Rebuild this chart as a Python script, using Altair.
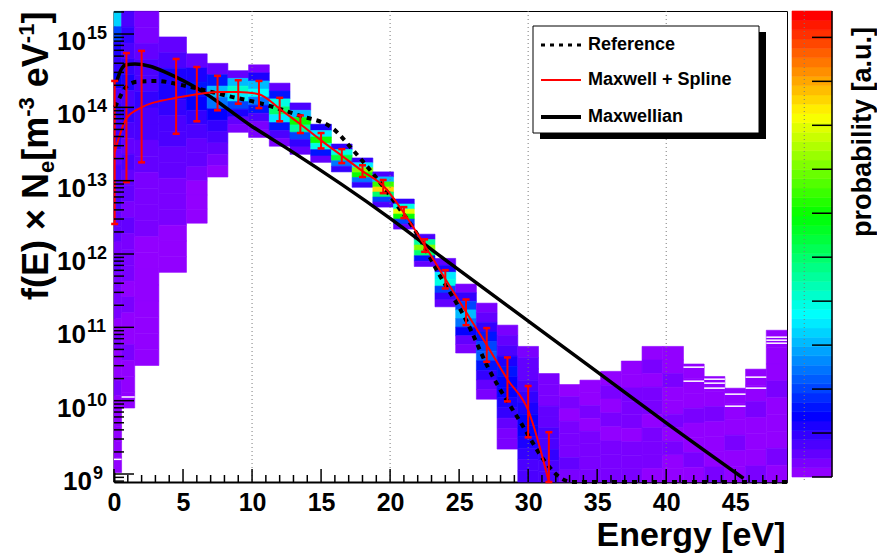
import colorsys
import math
import altair as alt
import pandas as pd

FONT = "Liberation Sans"

# ---------------- data ----------------
# y values are given as log10 exponents
Y_MIN, Y_MAX = 8.891, 15.314
X_MAX = 48.75
Z_MAX = 1.06

bin_lo = [0.0, 0.55, 1.5, 3.25, 5.25, 6.75, 8.25, 9.75, 11.25, 12.75, 14.25, 15.75, 17.25,
          18.75, 20.25, 21.75, 23.25, 24.75, 26.25, 27.75, 29.25, 30.75, 32.25, 33.75, 35.25,
          36.75, 38.25, 39.75, 41.25, 42.75, 44.25, 45.75, 47.25]
bin_hi = [0.55, 1.5, 3.25, 5.25, 6.75, 8.25, 9.75, 11.25, 12.75, 14.25, 15.75, 17.25, 18.75,
          20.25, 21.75, 23.25, 24.75, 26.25, 27.75, 29.25, 30.75, 32.25, 33.75, 35.25, 36.75,
          38.25, 39.75, 41.25, 42.75, 44.25, 45.75, 47.25, 48.75]
col_top = [15.31, 15.31, 15.31, 14.96, 14.73, 14.60, 14.50, 14.58, 14.33, 14.06, 13.77, 13.50,
           13.31, 13.12, 12.75, 12.27, 11.94, 11.59, 11.33, 11.03, 10.74, 10.37, 10.22, 10.28,
           10.40, 10.54, 10.74, 10.74, 10.50, 10.33, 10.17, 10.43, 10.96]
col_bot = [9.02, 9.90, 10.48, 11.75, 12.42, 13.05, 13.66, 13.59, 13.47, 13.36, 13.25, 13.12,
           12.91, 12.64, 12.34, 11.83, 11.28, 10.65, 10.02, 9.34] + [8.89] * 13
col_profile = [
    [0.32, 0.2, 0.12, 0.1, 0.13, 0.08, 0.1, 0.07, 0.09, 0.06, 0.08, 0.05, 0.07, 0.05, 0.06,
     0.04, 0.05, 0.03, 0.04, 0.03, 0.02, 0.03, 0.02, 0.02, 0.03, 0.02, 0.02, 0.02, 0.02, 0.02],
    [0.08, 0.1, 0.07, 0.09, 0.12, 0.08, 0.1, 0.07, 0.06, 0.08, 0.05, 0.06, 0.04, 0.05, 0.03,
     0.04, 0.03, 0.02, 0.03, 0.02, 0.02, 0.03, 0.02, 0.02, 0.02],
    [0.03, 0.04, 0.05, 0.07, 0.08, 0.09, 0.08, 0.07, 0.06, 0.05, 0.04, 0.04, 0.03, 0.03, 0.02,
     0.02, 0.02, 0.02, 0.02, 0.02, 0.02, 0.02],
    [0.05, 0.08, 0.11, 0.12, 0.1, 0.08, 0.07, 0.06, 0.05, 0.04, 0.03, 0.03, 0.02, 0.02, 0.02],
    [0.06, 0.12, 0.15, 0.13, 0.1, 0.08, 0.06, 0.05, 0.03, 0.02, 0.02, 0.02],
    [0.05, 0.15, 0.3, 0.25, 0.13, 0.1, 0.07, 0.05, 0.03, 0.02],
    [0.05, 0.3, 0.42, 0.35, 0.2, 0.12, 0.05, 0.03],
    [0.04, 0.12, 0.3, 0.38, 0.25, 0.15, 0.08, 0.04, 0.03],
    [0.06, 0.15, 0.4, 0.5, 0.35, 0.15, 0.07, 0.04],
    [0.08, 0.3, 0.6, 0.45, 0.2, 0.1, 0.05],
    [0.12, 0.35, 0.6, 0.4, 0.15, 0.06],
    [0.1, 0.4, 0.55, 0.25, 0.1],
    [0.1, 0.35, 0.7, 0.6, 0.25, 0.1],
    [0.08, 0.3, 0.65, 0.85, 0.5, 0.2, 0.07],
    [0.1, 0.4, 0.8, 0.6, 0.2, 0.06],
    [0.08, 0.45, 0.7, 0.5, 0.15, 0.05],
    [0.05, 0.12, 0.35, 0.4, 0.2, 0.1, 0.05],
    [0.04, 0.1, 0.2, 0.3, 0.25, 0.13, 0.06, 0.04],
    [0.04, 0.06, 0.1, 0.15, 0.2, 0.22, 0.15, 0.1, 0.05, 0.03],
    [0.03, 0.05, 0.08, 0.12, 0.15, 0.14, 0.13, 0.12, 0.09, 0.06, 0.04, 0.03],
    [0.03, 0.05, 0.06, 0.08, 0.1, 0.12, 0.13, 0.14, 0.12, 0.1, 0.08, 0.07],
    [0.03, 0.03, 0.04, 0.05, 0.06, 0.07, 0.08, 0.09, 0.08, 0.07],
    [0.02, 0.03, 0.02, 0.04, 0.03, 0.04, 0.05, 0.04],
    [0.02, 0.02, 0.03, 0.02, 0.03, 0.04, 0.03, 0.04],
    [0.02, 0.03, 0.02, 0.03, 0.02, 0.03, 0.04, 0.03],
    [0.02, 0.02, 0.03, 0.04, 0.03, 0.02, 0.03, 0.04, 0.03],
    [0.02, 0.03, 0.02, 0.03, 0.03, 0.02, 0.04, 0.03, 0.03, 0.02],
    [0.02, 0.02, 0.03, 0.02, 0.02, 0.03, 0.02, 0.03, 0.02, 0.02],
    [0.02, 0.02, 0.02, 0.03, 0.02, 0.02, 0.03, 0.02],
    [0.02, 0.02, 0.03, 0.02, 0.02, 0.02, 0.03],
    [0.02, 0.02, 0.02, 0.03, 0.02, 0.02],
    [0.02, 0.02, 0.03, 0.02, 0.02, 0.02, 0.03],
    [0.02, 0.02, 0.02, 0.03, 0.02, 0.02, 0.02, 0.03, 0.02],
]
# empty (white) bins inside columns: x range and log10 y
gap_x0 = [0.0, 0.55, 41.25, 41.25, 42.75, 42.75, 42.75, 44.25, 44.25, 45.75, 45.75, 47.25, 47.25, 47.25]
gap_x1 = [0.55, 1.5, 42.75, 42.75, 44.25, 44.25, 44.25, 45.75, 45.75, 47.25, 47.25, 48.75, 48.75, 48.75]
gap_L = [9.20, 10.05, 10.457, 10.266, 10.293, 10.239, 10.171, 10.089, 9.925, 10.321, 10.171,
         10.866, 10.825, 10.784]

# Maxwell + Spline points with error bars
eb_E = [0.05, 0.9, 2.0, 4.5, 6.0, 7.5, 9.0, 10.5, 12.0, 13.5, 15.0, 16.5, 18.0, 19.5, 21.0,
        22.5, 24.0, 25.5, 27.0, 28.5, 30.0, 31.5]
eb_mid = [13.39, 13.85, 14.00, 14.13, 14.18, 14.21, 14.21, 14.18, 13.98, 13.77, 13.55, 13.34,
          13.13, 12.93, 12.56, 12.12, 11.66, 11.21, 10.76, 10.29, 9.87, 8.78]
eb_hi = [14.36, 14.74, 14.77, 14.66, 14.55, 14.43, 14.37, 14.36, 14.13, 13.89, 13.65, 13.43,
         13.21, 13.01, 12.64, 12.20, 11.78, 11.38, 10.99, 10.59, 10.20, 9.57]
eb_lo = [12.41, 12.98, 13.25, 13.64, 13.81, 13.96, 14.05, 13.99, 13.81, 13.65, 13.44, 13.24,
         13.05, 12.83, 12.49, 12.03, 11.53, 11.03, 10.53, 9.99, 9.50, 7.90]

# Reference (dotted)
ref_E = [0.07, 0.43, 0.79, 1.66, 3.1, 5.0, 8.6, 10.3, 13.4, 15.8, 17.3, 19.0, 20.4, 21.9,
         23.5, 25.5, 27.1, 29.5, 31.3, 32.4, 33.2, 40.0, 48.75]
ref_L = [14.00, 14.14, 14.26, 14.35, 14.36, 14.30, 14.14, 14.07, 13.89, 13.72, 13.42, 13.04,
         12.69, 12.29, 11.74, 11.10, 10.45, 9.69, 9.15, 8.94, 8.80, 7.50, 6.00]

# Maxwellian (solid black)
mx_E = [0.22, 0.5, 0.87, 1.52, 2.6, 3.83, 6.2, 10.0, 12.7, 19.9, 24.0, 35.1, 39.9, 45.6]
mx_L = [14.37, 14.51, 14.58, 14.59, 14.56, 14.47, 14.24, 13.74, 13.42, 12.50, 11.92, 10.38,
        9.71, 8.94]

x_labels = [0, 5, 10, 15, 20, 25, 30, 35, 40, 45]
x_minor = [i for i in range(0, 49) if i % 5]
x_grid = [10, 20, 30, 40, 50]
y_exps = [9, 10, 11, 12, 13, 14, 15]
legend_labels = ["Reference", "Maxwell + Spline", "Maxwellian"]
cb_title = "probability [a.u.]"
cb_ticks = [0.0, 0.1, 0.2, 0.3, 0.4, 0.5, 0.6, 0.7, 0.8, 0.9, 1.0]
# y title pieces: (text, kind, leading space)  kind: 0 normal, 1 subscript, 2 superscript
y_title = [("f(E) × N", 0, 0), ("e", 1, 0), ("[m", 0, 0), ("-3", 2, 0), ("eV", 0, 1),
           ("-1", 2, 0), ("]", 0, 0)]

# ---------------- tables ----------------
rows = []
for i in range(len(bin_lo)):
    prof = col_profile[i]
    n = len(prof)
    step = (col_top[i] - col_bot[i]) / n
    for j, v in enumerate(prof):
        hi = col_top[i] - j * step
        lo = hi - step
        rows.append({"x0": bin_lo[i], "x1": bin_hi[i], "y0": 10 ** lo, "y1": 10 ** hi, "v": v})
cells = pd.DataFrame(rows)
gaps = pd.DataFrame({"x0": gap_x0, "x1": gap_x1, "y": [10 ** v for v in gap_L]})

eb = pd.DataFrame({"E": eb_E, "mid": [10 ** v for v in eb_mid],
                   "hi": [10 ** v for v in eb_hi], "lo": [10 ** v for v in eb_lo]})
ref = pd.DataFrame({"E": ref_E, "f": [10 ** v for v in ref_L]})
mx = pd.DataFrame({"E": mx_E, "f": [10 ** v for v in mx_L]})

y_major = pd.DataFrame({"v": [10.0 ** k for k in y_exps]})
y_minor = pd.DataFrame({"v": [m * 10.0 ** k for k in range(8, 16) for m in range(2, 10)
                              if Y_MIN <= k + math.log10(m) <= Y_MAX]})
ylab2 = pd.DataFrame({"v": [10.0 ** k for k in y_exps if k >= 10],
                      "e": [str(k) for k in y_exps if k >= 10]})
ylab1 = pd.DataFrame({"v": [10.0 ** k for k in y_exps if k < 10],
                      "e": [str(k) for k in y_exps if k < 10]})

# palette (ROOT "pretty" palette: 49 HLS hues from violet to red + red)
pal = []
for i in range(49):
    h = (280 - (i + 1) * 5.6) / 360.0
    r, g, b = colorsys.hls_to_rgb(h, 0.5, 1.0)
    pal.append("#%02x%02x%02x" % (round(r * 255), round(g * 255), round(b * 255)))
pal.append("#ff0000")
NC = 50
cb = pd.DataFrame({"z0": [k * Z_MAX / NC for k in range(NC)],
                   "z1": [(k + 1) * Z_MAX / NC for k in range(NC)],
                   "v": [(k + 0.5) * Z_MAX / NC for k in range(NC)]})
cbt = pd.DataFrame({"z": cb_ticks})

# ---------------- scales / axes ----------------
W, H = 673, 471
xs = alt.Scale(domain=[0, X_MAX], nice=False, zero=False)
ys = alt.Scale(type="log", domain=[10 ** Y_MIN, 10 ** Y_MAX], nice=False, clamp=True)
fs = alt.Scale(type="quantize", domain=[0, Z_MAX], range=pal, nice=False)
CB_LO = -Z_MAX * (H - 466) / 466.0
cbs = alt.Scale(domain=[CB_LO, Z_MAX], nice=False, zero=False)

x_axis = alt.Axis(values=x_labels, ticks=False, grid=False, domainColor="black", domainWidth=2,
                  labelFont=FONT, labelFontWeight="bold", labelFontSize=25, labelColor="black",
                  labelPadding=8, labelFlush=False, labelOverlap=False, format="d",
                  title="Energy [eV]", titleFont=FONT, titleFontWeight="bold", titleFontSize=34,
                  titleColor="black", titleAlign="right", titleBaseline="alphabetic",
                  titleX=671, titleY=63)
y_axis = alt.Axis(labels=False, ticks=False, grid=False, domainColor="black", domainWidth=2,
                  title="")


def X(f):
    return alt.X(f, scale=xs, axis=x_axis)


def Y(f):
    return alt.Y(f, scale=ys, axis=None)


one = pd.DataFrame({"a": [0]})
layers = []
# histogram cells
layers.append(alt.Chart(cells).mark_rect(strokeWidth=0.6).encode(
    x=X("x0:Q"), x2="x1:Q",
    y=alt.Y("y0:Q", scale=ys, axis=y_axis), y2="y1:Q",
    fill=alt.Fill("v:Q", scale=fs, legend=None),
    stroke=alt.Stroke("v:Q", scale=fs, legend=None)))
layers.append(alt.Chart(gaps).mark_rule(color="white", strokeWidth=1.5).encode(
    x=X("x0:Q"), x2="x1:Q", y=Y("y:Q")))
# colour bar
layers.append(alt.Chart(cb).mark_rect(strokeWidth=0.6).encode(
    x=alt.value(678), x2=alt.value(718),
    y=alt.Y("z0:Q", scale=cbs, axis=None), y2="z1:Q",
    fill=alt.Fill("v:Q", scale=fs, legend=None),
    stroke=alt.Stroke("v:Q", scale=fs, legend=None)))
layers.append(alt.Chart(cbt).mark_rule(color="black", strokeWidth=1.5).encode(
    y=alt.Y("z:Q", scale=cbs, axis=None), x=alt.value(698), x2=alt.value(718)))
layers.append(alt.Chart(one).mark_rule(color="black", strokeWidth=1.5).encode(
    x=alt.value(718), y=alt.value(0), y2=alt.value(466)))
# grid
layers.append(alt.Chart(pd.DataFrame({"g": x_grid})).mark_rule(
    color="#7a7a7a", strokeDash=[1, 3], strokeWidth=1).encode(
    x=X("g:Q"), y=alt.value(0), y2=alt.value(H)))
# curves
layers.append(alt.Chart(mx).mark_line(color="black", strokeWidth=3.5, interpolate="monotone").encode(
    x=X("E:Q"), y=Y("f:Q")))
layers.append(alt.Chart(ref).mark_line(color="black", strokeWidth=4, strokeDash=[5, 5],
                                       interpolate="monotone").encode(
    x=X("E:Q"), y=Y("f:Q")))
layers.append(alt.Chart(eb).mark_line(color="#ff0000", strokeWidth=2, interpolate="monotone").encode(
    x=X("E:Q"), y=Y("mid:Q")))
layers.append(alt.Chart(eb).mark_rule(color="#ff0000", strokeWidth=2).encode(
    x=X("E:Q"), y=Y("lo:Q"), y2="hi:Q"))
for fld in ["lo", "hi"]:
    layers.append(alt.Chart(eb).mark_point(shape="stroke", size=49, strokeWidth=2.5,
                                           color="#ff0000", opacity=1, filled=False).encode(
        x=X("E:Q"), y=Y(fld + ":Q")))
# ticks
layers.append(alt.Chart(pd.DataFrame({"t": x_labels})).mark_rule(color="black", strokeWidth=1.5).encode(
    x=X("t:Q"), y=alt.value(H), y2=alt.value(H - 13)))
layers.append(alt.Chart(pd.DataFrame({"t": x_minor})).mark_rule(color="black", strokeWidth=1.5).encode(
    x=X("t:Q"), y=alt.value(H), y2=alt.value(H - 7)))
layers.append(alt.Chart(y_major).mark_rule(color="black", strokeWidth=1.5).encode(
    y=Y("v:Q"), x=alt.value(0), x2=alt.value(20)))
layers.append(alt.Chart(y_minor).mark_rule(color="black", strokeWidth=1.5).encode(
    y=Y("v:Q"), x=alt.value(0), x2=alt.value(10)))
# y labels 10^k
for df, xr in [(ylab2, -28), (ylab1, -22)]:
    layers.append(alt.Chart(df).mark_text(text="10", align="right", baseline="alphabetic", dy=16,
                                          font=FONT, fontWeight="bold", fontSize=26,
                                          color="black").encode(
        y=Y("v:Q"), x=alt.value(xr)))
    layers.append(alt.Chart(df).mark_text(align="left", baseline="alphabetic", dy=5,
                                          font=FONT, fontWeight="bold", fontSize=18,
                                          color="black").encode(
        y=Y("v:Q"), x=alt.value(xr + 1), text="e:N"))

# y-axis title built from pieces (rotated, reading upward)
ARIAL_B = {"f": .333, "(": .333, "E": .667, ")": .333, " ": .278, "×": .584, "N": .722,
           "e": .556, "[": .333, "m": .889, "-": .333, "3": .556, "V": .667, "1": .556, "]": .333}
SIZE = {0: 36, 1: 22, 2: 22}
BASE_X = {0: -66, 1: -60, 2: -80}
ypos = 289.0
for txt, kind, sp in y_title:
    ypos -= sp * ARIAL_B[" "] * SIZE[kind]
    layers.append(alt.Chart(one).mark_text(text=txt, angle=270, align="left",
                                           baseline="alphabetic", font=FONT, fontWeight="bold",
                                           fontSize=SIZE[kind], color="black").encode(
        x=alt.value(BASE_X[kind]), y=alt.value(ypos)))
    ypos -= sum(ARIAL_B[c] for c in txt) * SIZE[kind]

# colour bar title
layers.append(alt.Chart(one).mark_text(text=cb_title, angle=270, align="right",
                                       baseline="alphabetic", font=FONT, fontWeight="bold",
                                       fontSize=27, color="black").encode(
    x=alt.value(757), y=alt.value(16)))
# legend box
layers.append(alt.Chart(one).mark_rect(color="black").encode(
    x=alt.value(426), x2=alt.value(652), y=alt.value(21), y2=alt.value(128)))
layers.append(alt.Chart(one).mark_rect(fill="white", stroke="black", strokeWidth=1).encode(
    x=alt.value(419), x2=alt.value(645), y=alt.value(15), y2=alt.value(122)))
leg_styles = [dict(color="black", strokeWidth=3, strokeDash=[4, 5]),
              dict(color="#ff0000", strokeWidth=2),
              dict(color="black", strokeWidth=4)]
leg_y = [34, 69, 106]
for lab, sty, yy in zip(legend_labels, leg_styles, leg_y):
    layers.append(alt.Chart(one).mark_rule(**sty).encode(
        x=alt.value(427), x2=alt.value(467), y=alt.value(yy)))
    layers.append(alt.Chart(one).mark_text(text=lab, align="left", baseline="middle", font=FONT,
                                           fontWeight="bold", fontSize=18, color="black").encode(
        x=alt.value(474), y=alt.value(yy)))

chart = alt.layer(*layers).resolve_scale(y="independent").properties(
    width=W, height=H,
    autosize=alt.AutoSizeParams(type="none"),
    padding={"left": 114, "top": 11, "right": 90, "bottom": 72},
).configure(background="white").configure_view(stroke="black", strokeWidth=1)

chart.save("out.html", embed_options={"renderer": "svg", "actions": False})
